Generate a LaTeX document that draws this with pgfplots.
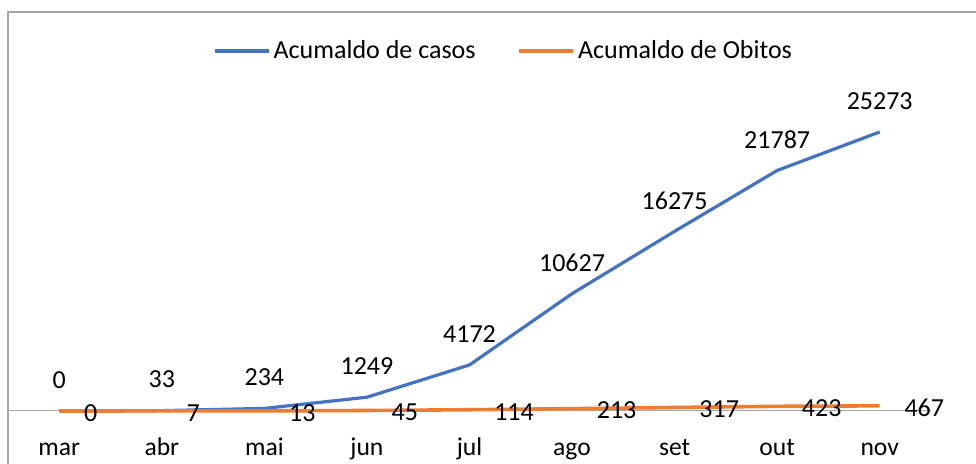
\documentclass[border=0pt]{standalone}
\usepackage{pgfplots}
\pgfplotsset{compat=1.18}
\usepackage{fontspec}
\setmainfont{Carlito}

\definecolor{casos}{HTML}{4472C4}
\definecolor{obitos}{HTML}{ED7D31}
\definecolor{frame}{HTML}{A6A6A6}
\definecolor{axisgray}{HTML}{A6A6A6}

% 1 px of the reference = 0.5pt here
\begin{document}
\begin{tikzpicture}
\useasboundingbox (0,0) rectangle (488pt,-232pt);
\fill[white] (0,0) rectangle (488pt,-232pt);
\draw[frame, line width=0.6pt] (4pt,-232pt) -- (4pt,-6pt) -- (488pt,-6pt);
\begin{axis}[
    at={(4pt,-205.5pt)}, anchor=south west,
    scale only axis, width=461.5pt, height=165.6pt,
    xmin=-0.5, xmax=8.5, ymin=0, ymax=30000,
    clip=false,
    hide y axis,
    axis x line*=bottom,
    x axis line style={draw=axisgray, line width=0.5pt},
    xtick={0,...,8},
    xticklabels={mar,abr,mai,jun,jul,ago,set,out,nov},
    xtick style={draw=none},
    xticklabel style={font=\fontsize{12.8}{14}\selectfont, anchor=base, inner sep=0pt, yshift=-22.5pt},
    /pgf/number format/1000 sep={},
    /pgf/number format/assume math mode=true,
    nodes near coords,
    every node near coord/.append style={font=\fontsize{13}{15}\selectfont, inner sep=0pt, text=black},
    legend columns=2,
    legend style={at={(0.536,1.087)}, anchor=center, draw=none, fill=none,
        font=\fontsize{13}{15}\selectfont,
        nodes={inner sep=0pt},
        /tikz/every odd column/.append style={column sep=1.5pt},
        /tikz/every even column/.append style={column sep=21pt}},
    legend image code/.code={\draw[#1] (0pt,0pt) -- (27pt,0pt);},
]
\addplot[casos, line width=1.6pt, line join=round, mark=none,
    every node near coord/.append style={anchor=center, yshift=15.5pt}]
    coordinates {(0,0) (1,33) (2,234) (3,1249) (4,4172) (5,10627) (6,16275) (7,21787) (8,25273)};
\addlegendentry{Acumaldo de casos}
\addplot[obitos, line width=1.8pt, line join=round, mark=none,
    every node near coord/.append style={anchor=west, xshift=11.5pt, yshift=-1pt}]
    coordinates {(0,0) (1,7) (2,13) (3,45) (4,114) (5,213) (6,317) (7,423) (8,467)};
\addlegendentry{Acumaldo de Obitos}
\end{axis}
\end{tikzpicture}
\end{document}
